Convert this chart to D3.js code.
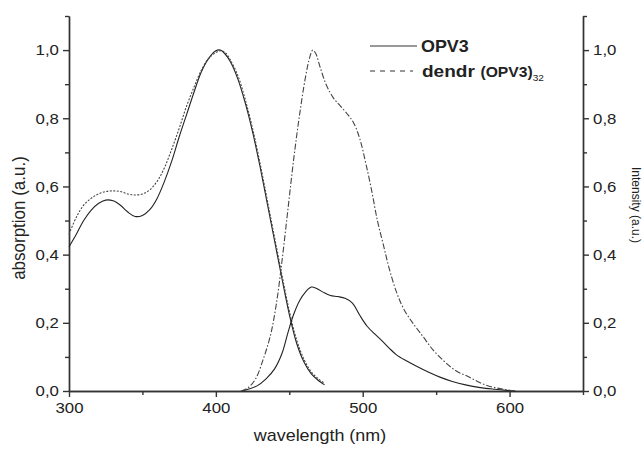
<!DOCTYPE html>
<html>
<head>
<meta charset="utf-8">
<script src="https://cdn.jsdelivr.net/npm/d3@7"></script>
<style>
  body { margin: 0; background: #fff; }
  text { font-family: "Liberation Sans", Arial, sans-serif; fill: #222; }
</style>
</head>
<body>
<div id="chart"></div>
<script>
// absorption spectra (left axis)
let absWl = [300,305,310,315,320,325,330,335,340,345,350,355,360,365,370,375,380,385,390,395,400,403,406,410,415,420,425,430,435,440,445,450,455,460,465,470,474];
let absOPV3 = [0.423,0.46,0.5,0.53,0.55,0.56,0.558,0.545,0.525,0.512,0.515,0.532,0.565,0.615,0.675,0.745,0.81,0.875,0.935,0.975,0.998,1.0,0.99,0.965,0.915,0.845,0.76,0.66,0.55,0.44,0.33,0.225,0.14,0.085,0.05,0.03,0.018];
let absDendrWl = [300,305,310,315,320,325,330,335,340,345,350,355,360,365,370,375,380,385,390,395,400,404,407,410,415,420,425,430,435,440,445,450,455,460,465,470,474];
let absDendr = [0.46,0.51,0.545,0.565,0.578,0.585,0.587,0.585,0.578,0.575,0.578,0.59,0.615,0.655,0.71,0.77,0.835,0.89,0.94,0.975,0.993,0.998,0.99,0.97,0.925,0.855,0.77,0.67,0.56,0.45,0.34,0.235,0.15,0.093,0.056,0.035,0.022];

// emission spectra (right axis)
let emWl = [418,422,428,434,440,445,449,453,457,461,465,469,473,478,483,488,493,498,503,508,513,518,523,530,537,545,553,561,570,580,590,600,604];
let emOPV3 = [0,0.005,0.015,0.035,0.065,0.11,0.17,0.225,0.265,0.29,0.305,0.3,0.29,0.28,0.277,0.272,0.258,0.222,0.19,0.168,0.148,0.126,0.106,0.088,0.072,0.055,0.04,0.028,0.018,0.01,0.005,0.001,0];
let emDendrWl = [417,422,427,432,437,441,445,449,453,457,461,464,466,468,471,475,480,485,490,494,498,502,506,510,514,518,523,528,534,541,548,556,564,572,580,588,596,603];
let emDendr = [0,0.01,0.035,0.09,0.16,0.25,0.38,0.53,0.68,0.81,0.92,0.98,1.0,0.99,0.95,0.9,0.86,0.835,0.81,0.785,0.74,0.67,0.59,0.5,0.43,0.36,0.29,0.24,0.2,0.16,0.12,0.085,0.058,0.042,0.024,0.012,0.005,0];

let majorY = [0,0.2,0.4,0.6,0.8,1.0];
let minorY = [0.1,0.3,0.5,0.7,0.9,1.1];
let majorX = [300,400,500,600];
let minorX = [350,450,550,650];

const width = 644, height = 449;
const margin = {top: 16, right: 61, bottom: 58, left: 69};
const sx = 1.12;   // the picture is a bit wider than tall, text looks stretched

let svg = d3.select("#chart")
    .append("svg")
    .attr("width", width)
    .attr("height", height);

let x = d3.scaleLinear().domain([300, 650]).range([margin.left, width - margin.right]);
let y = d3.scaleLinear().domain([0, 1.1]).range([height - margin.bottom, margin.top]);
let y2 = d3.scaleLinear().domain([0, 1.1]).range([height - margin.bottom, margin.top]);

let fmt = d => d.toFixed(1).replace(".", ",");

function styleAxis(g) {
    g.selectAll("path, line").attr("stroke", "#333").attr("stroke-width", 1.4);
    g.selectAll("text")
        .style("font-size", "15px")
        .attr("fill", "#222")
        .attr("transform", `scale(${sx},1)`);
}

// minor ticks first
svg.append("g")
    .attr("transform", `translate(${margin.left},0)`)
    .call(d3.axisLeft(y).tickValues(minorY).tickSize(4).tickSizeOuter(0).tickFormat(""))
    .call(styleAxis);
svg.append("g")
    .attr("transform", `translate(${width - margin.right},0)`)
    .call(d3.axisRight(y2).tickValues(minorY).tickSize(4).tickSizeOuter(0).tickFormat(""))
    .call(styleAxis);
svg.append("g")
    .attr("transform", `translate(0,${height - margin.bottom})`)
    .call(d3.axisBottom(x).tickValues(minorX).tickSize(4).tickSizeOuter(0).tickFormat(""))
    .call(styleAxis);

// major ticks
svg.append("g")
    .attr("transform", `translate(${margin.left},0)`)
    .call(d3.axisLeft(y).tickValues(majorY).tickSize(6).tickSizeOuter(0).tickPadding(3).tickFormat(fmt))
    .call(styleAxis);
svg.append("g")
    .attr("transform", `translate(${width - margin.right},0)`)
    .call(d3.axisRight(y2).tickValues(majorY).tickSize(6).tickSizeOuter(0).tickPadding(3).tickFormat(fmt))
    .call(styleAxis);
svg.append("g")
    .attr("transform", `translate(0,${height - margin.bottom})`)
    .call(d3.axisBottom(x).tickValues(majorX).tickSize(6).tickSizeOuter(0).tickPadding(5).tickFormat(d3.format("d")))
    .call(styleAxis);

// curves
function drawCurve(wl, vals, yScale, dash, col) {
    let pts = wl.map((w, i) => [w, vals[i]]);
    let line = d3.line()
        .x(d => x(d[0]))
        .y(d => yScale(d[1]))
        .curve(d3.curveCatmullRom.alpha(0.5));
    svg.append("path")
        .datum(pts)
        .attr("fill", "none")
        .attr("stroke", col)
        .attr("stroke-width", 1.1)
        .attr("stroke-dasharray", dash)
        .attr("d", line);
}
drawCurve(absWl, absOPV3, y, null, "#222");
drawCurve(absDendrWl, absDendr, y, "2,1.5", "#444");
drawCurve(emWl, emOPV3, y2, null, "#222");
drawCurve(emDendrWl, emDendr, y2, "6,2,1.5,2", "#444");

// axis labels
svg.append("text")
    .attr("transform", `translate(25,218) rotate(-90) scale(1,${sx})`)
    .style("text-anchor", "middle")
    .style("font-size", "17px")
    .text("absorption (a.u.)");
svg.append("text")
    .attr("transform", `translate(320,441) scale(${sx},1)`)
    .style("text-anchor", "middle")
    .style("font-size", "16px")
    .text("wavelength (nm)");
svg.append("text")
    .attr("transform", `translate(632,205) rotate(90) scale(1,${sx})`)
    .style("text-anchor", "middle")
    .style("font-size", "12px")
    .text("Intensity (a.u.)");

// legend
let leg = svg.append("g");
leg.append("line")
    .attr("x1", 370).attr("x2", 417).attr("y1", 46).attr("y2", 46)
    .attr("stroke", "#333").attr("stroke-width", 1);
leg.append("text")
    .attr("transform", `translate(421,52) scale(${sx},1)`)
    .style("font-size", "16px").style("font-weight", "bold")
    .text("OPV3");
leg.append("line")
    .attr("x1", 370).attr("x2", 413).attr("y1", 71).attr("y2", 71)
    .attr("stroke", "#333").attr("stroke-width", 1).attr("stroke-dasharray", "5,5");
let t = leg.append("text")
    .attr("transform", `translate(422,77) scale(${sx},1)`)
    .style("font-weight", "bold");
t.append("tspan").style("font-size", "17px").text("dendr");
t.append("tspan").attr("dx", 5).style("font-size", "14px").text("(OPV3)");
t.append("tspan").attr("dy", 4).style("font-size", "9px").style("font-weight", "normal").text("32");
</script>
</body>
</html>
